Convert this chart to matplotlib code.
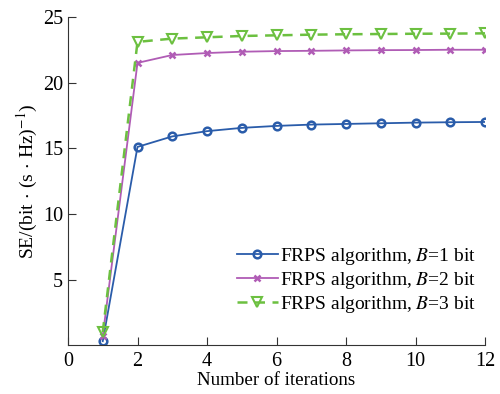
import numpy as np
import matplotlib.pyplot as plt

plt.rcParams['font.family'] = ['Liberation Serif', 'DejaVu Serif']
plt.rcParams['mathtext.fontset'] = 'stix'

# iterations and SE values
iters = np.arange(1, 13)
se_b1 = [0.3, 15.1, 15.9, 16.3, 16.55, 16.7, 16.8, 16.85, 16.9, 16.95, 16.98, 17.0]
se_b2 = [0.7, 21.5, 22.1, 22.25, 22.35, 22.4, 22.42, 22.45, 22.47, 22.48, 22.5, 22.5]
se_b3 = [1.0, 23.1, 23.35, 23.45, 23.55, 23.6, 23.65, 23.68, 23.7, 23.72, 23.73, 23.75]

fig = plt.figure(figsize=(5, 3.94), dpi=100)
ax = fig.add_axes([0.136, 0.124, 0.834, 0.833])

ax.plot(iters, se_b1, '-', color='#2a5caa', lw=1.3, marker='o', ms=5.5,
        mfc='none', mew=1.8, label='FRPS algorithm, $B$=1 bit')
ax.plot(iters, se_b2, '-', color='#b05cb5', lw=1.3, marker='x', ms=4,
        mew=1.8, label='FRPS algorithm, $B$=2 bit')
ax.plot(iters, se_b3, '--', color='#6cc040', lw=1.8, marker='v', ms=7,
        mfc='none', mew=1.5, dashes=(4, 3), label='FRPS algorithm, $B$=3 bit')

ax.set_xlim(0, 12)
ax.set_ylim(0, 25)
ax.set_xticks(range(0, 13, 2))
ax.set_yticks([5, 10, 15, 20, 25])
ax.tick_params(direction='in', labelsize=14.5, length=6, color='#333333')
ax.tick_params(axis='x', pad=5)
ax.spines['top'].set_visible(False)
ax.spines['right'].set_visible(False)
for s in ['left', 'bottom']:
    ax.spines[s].set_color('#333333')

ax.set_xlabel('Number of iterations', fontsize=13.7, labelpad=1)
ax.set_ylabel(r'SE/(bit$\,\cdot\,$(s$\,\cdot\,$Hz)$^{-1}$)', fontsize=14, labelpad=2)

ax.legend(loc='lower right', bbox_to_anchor=(1.02, 0.04), frameon=False,
          fontsize=14, handlelength=2.1, handletextpad=0.1, labelspacing=0.15)

fig.savefig('out.png', dpi=100)
